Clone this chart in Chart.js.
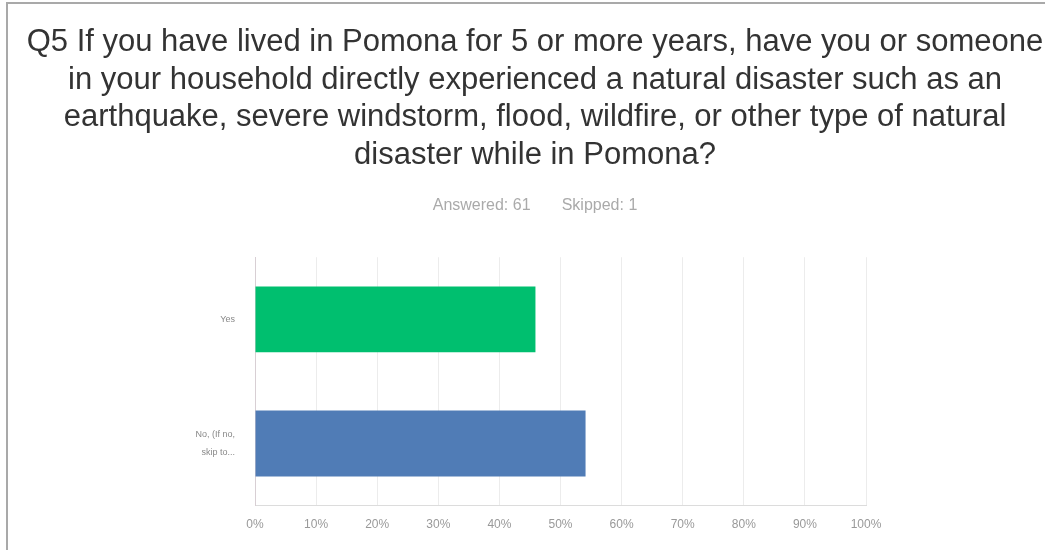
<!DOCTYPE html>
<html>
<head>
<meta charset="utf-8">
<script src="https://cdn.jsdelivr.net/npm/chart.js@4/dist/chart.umd.min.js"></script>
<style>
  html, body { margin: 0; padding: 0; background: #fff; overflow: hidden; }
  #frame { position: absolute; left: 6px; top: 2px; width: 1045px; height: 560px;
           border-left: 2px solid #a9a9a9; border-top: 2px solid #a9a9a9; }
  #wrap { position: absolute; left: 0; top: 0; width: 1070px; height: 550px; }
</style>
</head>
<body>
<div id="frame"></div>
<div id="wrap"><canvas id="myChart"></canvas></div>
<script>
// survey answers, percent of respondents
const answers = [["Yes"], ["No, (If no,", "skip to..."]]
const percents = [45.90, 54.10]
const barColors = ["#00bf6f", "#507cb6"]
const xTicks = [0, 10, 20, 30, 40, 50, 60, 70, 80, 90, 100]

const titleLines = [
    "Q5 If you have lived in Pomona for 5 or more years, have you or someone",
    "in your household directly experienced a natural disaster such as an",
    "earthquake, severe windstorm, flood, wildfire, or other type of natural",
    "disaster while in Pomona?"
]
const answered = 61
const skipped = 1

const font = "'Liberation Sans', Arial, sans-serif"

let htmlChart = document.getElementById("myChart")
let chart = new Chart(htmlChart, {
    type: "bar",
    data: {
        labels: answers,
        datasets: [
            {
                data: percents,
                backgroundColor: barColors,
                categoryPercentage: 0.53,
                barPercentage: 1.0,
            }
        ]
    },
    options: {
        indexAxis: "y",
        animation: false,
        responsive: true,
        maintainAspectRatio: false,
        layout: {
            padding: { left: 0, right: 0, top: 0, bottom: 6 }
        },
        plugins: {
            legend: { display: false },
            tooltip: { enabled: false },
            title: {
                display: true,
                text: titleLines,
                color: "#333",
                font: { family: font, size: 31, weight: "normal", lineHeight: 1.21 },
                padding: { top: 24, bottom: 18 }
            },
            subtitle: {
                display: true,
                text: "Answered: " + answered + "       Skipped: " + skipped,
                color: "#aaa",
                font: { family: font, size: 16 },
                padding: { top: 4, bottom: 42 }
            }
        },
        scales: {
            x: {
                min: 0,
                max: 100,
                afterBuildTicks: (s) => { s.ticks = xTicks.map(v => ({ value: v })) },
                grid: { color: "#ececec", drawTicks: false },
                border: { color: "#dcdcdc" },
                ticks: {
                    color: "#999",
                    padding: 12,
                    font: { family: font, size: 12 },
                    callback: (v) => v + "%"
                }
            },
            y: {
                afterFit: (s) => { s.width = 255 },
                grid: { display: false, drawTicks: false },
                border: { color: "#d8cfd4" },
                ticks: {
                    color: "#888",
                    padding: 20,
                    font: { family: font, size: 9, lineHeight: 1.9 }
                }
            },
            // empty axis that keeps the right margin of the plot
            right: {
                type: "linear",
                axis: "y",
                position: "right",
                afterFit: (s) => { s.width = 204 },
                grid: { display: false, drawTicks: false },
                border: { display: false },
                ticks: { display: false }
            }
        }
    }
})
</script>
</body>
</html>
